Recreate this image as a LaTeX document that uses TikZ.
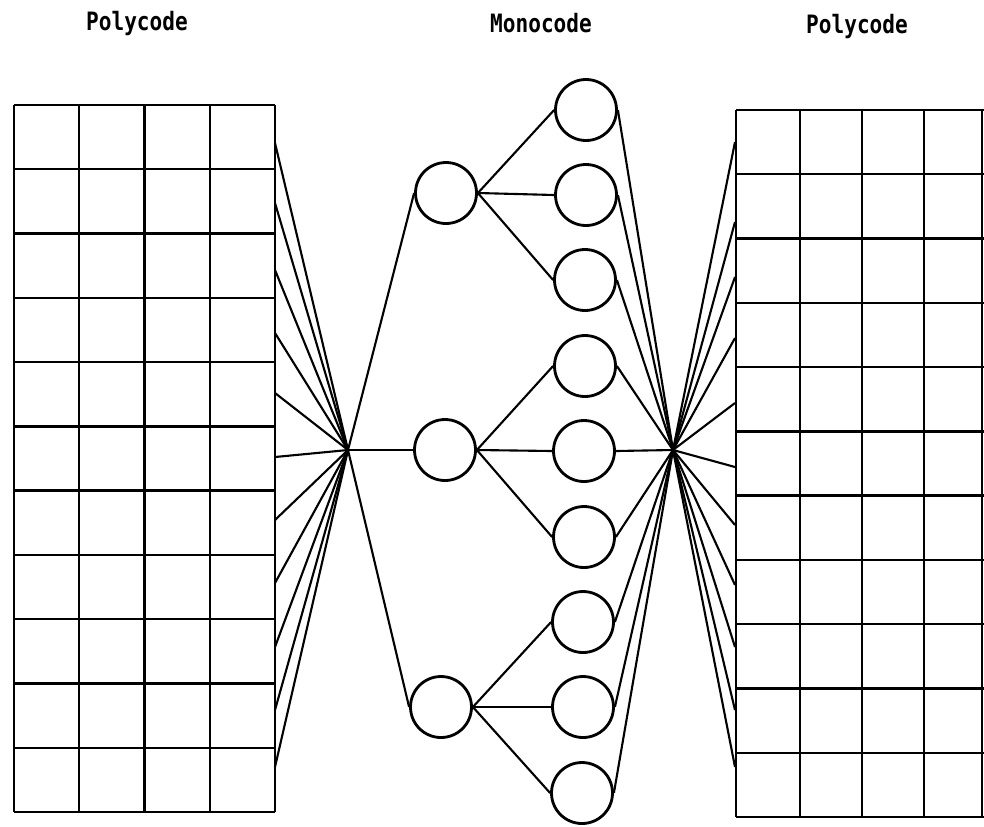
\documentclass[tikz,border=0pt]{standalone}
\usepackage{fontspec}
\usepackage{graphicx}
\newfontfamily\printfont{DejaVu Sans Mono}
\usetikzlibrary{positioning}

\newcommand{\printtext}[1]{\scalebox{1}[1.2]{\printfont\bfseries #1}}

\tikzset{
  codenode/.style={circle, draw, line width=1.6pt, minimum size=1.22cm, inner sep=0pt},
  gridline/.style={line width=1.3pt},
  wire/.style={line width=1.2pt},
  heading/.style={font=\fontsize{12}{14}\selectfont, anchor=base}
}

\begin{document}
\begin{tikzpicture}[x=0.02cm, y=-0.02cm]
    \useasboundingbox (0,0) rectangle (984,826);

    % --- Headings ---
    \node[heading] (tleft)  at (137,30) {\printtext{Polycode}};
    \node[heading] (tmid)   at (541,32) {\printtext{Monocode}};
    \node[heading] (tright) at (857,33) {\printtext{Polycode}};

    % --- Left polycode table (4 x 11) ---
    \foreach \i in {0,...,11}
      \draw[gridline] (14,105+\i*64.27) -- (275,105+\i*64.27);
    \foreach \j in {0,...,4}
      \draw[gridline] (14+\j*65.25,105) -- (14+\j*65.25,812);

    % --- Right polycode table (cut at the page edge) ---
    \foreach \i in {0,...,11}
      \draw[gridline] (736,110+\i*64.27) -- (984,110+\i*64.27);
    \foreach \x in {736,800,862,924,982}
      \draw[gridline] (\x,110) -- (\x,817);

    % --- Monocode nodes ---
    \node[codenode] (l1) at (446,193) {};
    \node[codenode] (l2) at (445,450) {};
    \node[codenode] (l3) at (441,707) {};
    \foreach \k/\x/\y in {1/586/110,2/586/195,3/585/280,4/585/366,5/584/451,
                          6/584/537,7/583/622,8/583/707,9/582/793}
      \node[codenode] (r\k) at (\x,\y) {};

    % --- Fan-in points ---
    \coordinate (lhub) at (348,450);
    \coordinate (rhub) at (673,450);

    % Left table rows to left hub
    \foreach \k/\y in {1/143,2/203,3/270,4/333,5/393,6/457,7/520,8/583,9/647,10/710,11/767} {
      \coordinate (lg\k) at (275,\y);
      \draw[wire] (lhub) -- (lg\k);
    }

    % Left hub to first column
    \foreach \k in {1,2,3}
      \draw[wire] (lhub) -- (l\k.west);

    % First column to second column
    \foreach \k in {1,2,3}
      \draw[wire] (l1.east) -- (r\k.west);
    \foreach \k in {4,5,6}
      \draw[wire] (l2.east) -- (r\k.west);
    \foreach \k in {7,8,9}
      \draw[wire] (l3.east) -- (r\k.west);

    % Second column to right hub
    \foreach \k in {1,...,9}
      \draw[wire] (r\k.east) -- (rhub);

    % Right hub to right table rows
    \foreach \k/\y in {1/142,2/222,3/277,4/338,5/403,6/467,7/525,8/585,9/647,10/710,11/767} {
      \coordinate (rg\k) at (735,\y);
      \draw[wire] (rhub) -- (rg\k);
    }
  \end{tikzpicture}
\end{document}
